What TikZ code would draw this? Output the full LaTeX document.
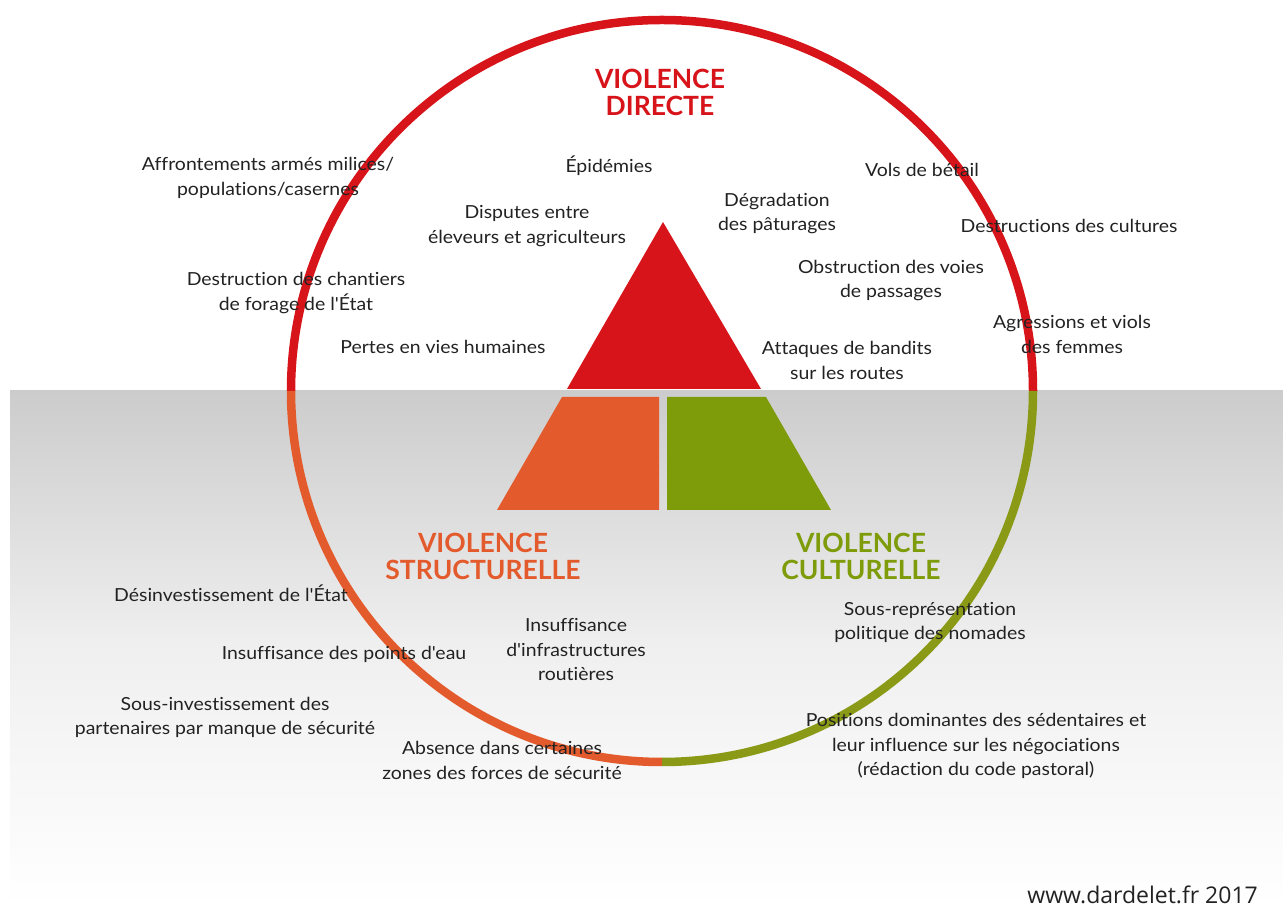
\documentclass[tikz,border=0pt]{standalone}
\usepackage{fontspec}
\setmainfont{Lato}[Ligatures=NoCommon]
\newfontfamily\bodyfont{Lato}[FakeStretch=1.08,Ligatures=NoCommon]
\newfontfamily\wwwfont{Open Sans}
\definecolor{vred}{HTML}{D7141A}
\definecolor{vorange}{HTML}{E35B2D}
\definecolor{vgreen}{HTML}{7E9C0A}
\definecolor{vgreenc}{HTML}{8A9A17}
\definecolor{txt}{HTML}{222222}
\definecolor{bggray}{HTML}{CCCCCC}
\begin{document}
\begin{tikzpicture}[x=1pt,y=1pt,
  lbl/.style={text=txt,align=center,inner sep=0pt,font=\bodyfont\fontsize{18}{24.5}\selectfont},
  ttl/.style={align=center,inner sep=0pt,font=\fontsize{26.5}{27}\selectfont\bfseries},
  ring/.style={line width=8.5pt}]
\useasboundingbox (0,0) rectangle (1283,907);
\fill[white] (0,0) rectangle (1283,907);
\shade[top color=bggray,bottom color=white,middle color=gray!12] (10,0) rectangle (1283,516);
% circle
\coordinate (c) at (662,516);
\draw[ring,vred] (1033,516) arc[start angle=0,end angle=180,radius=371];
\draw[ring,vorange] (291,516) arc[start angle=180,end angle=270,radius=371];
\draw[ring,vgreenc] (662,145) arc[start angle=270,end angle=360,radius=371];
% pyramid
\fill[vred] (663,685) -- (567,518) -- (761,518) -- cycle;
\fill[vorange] (562,510) -- (659,510) -- (659,397) -- (497,397) -- cycle;
\fill[vgreen] (667,510) -- (766,510) -- (831,397) -- (667,397) -- cycle;
% titles
\node[ttl,text=vred] (td) at (660,815) {VIOLENCE\\DIRECTE};
\node[ttl,text=vorange] (ts) at (483,351) {VIOLENCE\\STRUCTURELLE};
\node[ttl,text=vgreen] (tc) at (861,351) {VIOLENCE\\CULTURELLE};
% direct
\node[lbl] (n1) at (609,741) {Épidémies};
\node[lbl] (n2) at (268,729) {Affrontements armés milices/\\populations/casernes};
\node[lbl] (n3) at (527,681) {Disputes entre\\éleveurs et agriculteurs};
\node[lbl] (n4) at (777,693.5) {Dégradation\\des pâturages};
\node[lbl] (n5) at (922,737) {Vols de bétail};
\node[lbl] (n6) at (1069,681) {Destructions des cultures};
\node[lbl] (n7) at (891,626.5) {Obstruction des voies\\de passages};
\node[lbl] (n8) at (296,614) {Destruction des chantiers\\de forage de l'État};
\node[lbl] (n9) at (1072,572.5) {Agressions et viols\\des femmes};
\node[lbl] (n10) at (443,560) {Pertes en vies humaines};
\node[lbl] (n11) at (847,546.5) {Attaques de bandits\\sur les routes};
% structural
\node[lbl] (s1) at (231,314) {Désinvestissement de l'État};
\node[lbl] (s2) at (344,253) {Insuffisance des points d'eau};
\node[lbl] (s3) at (576,257) {Insuffisance\\d'infrastructures\\routières};
\node[lbl] (s4) at (225,189.5) {Sous-investissement des\\partenaires par manque de sécurité};
\node[lbl] (s5) at (502,146.5) {Absence dans certaines\\zones des forces de sécurité};
% cultural
\node[lbl] (k1) at (930,284.5) {Sous-représentation\\politique des nomades};
\node[lbl] (k2) at (976,161) {Positions dominantes des sédentaires et\\leur influence sur les négociations\\(rédaction du code pastoral)};
% credit
\node[text=txt,inner sep=0pt,anchor=east,font=\wwwfont\fontsize{23}{26}\selectfont] (w) at (1258,12) {www.dardelet.fr 2017};
\end{tikzpicture}
\end{document}
